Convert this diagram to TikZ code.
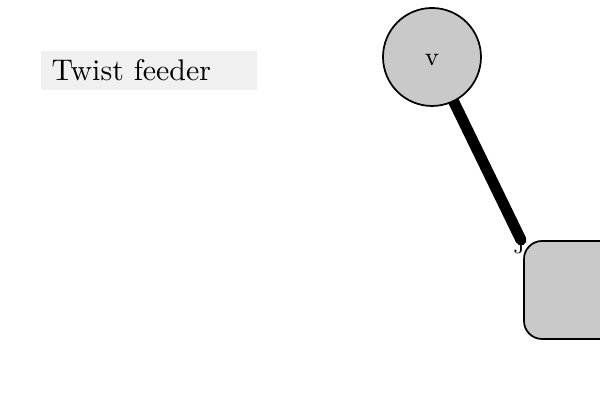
\documentclass[tikz,border=0pt]{standalone}
\begin{document}
\begin{tikzpicture}[x=0.345pt,y=-0.345pt,
  ball/.style={circle,draw=black,line width=0.6pt,fill=black!21,minimum size=98*0.345pt,inner sep=0pt},
  block/.style={rectangle,rounded corners=18*0.345pt,draw=black,line width=0.6pt,fill=black!21,minimum width=98*0.345pt,minimum height=98*0.345pt,inner sep=0pt},
  tag/.style={rectangle,fill=black!6,minimum width=216*0.345pt,minimum height=39*0.345pt,inner sep=0pt,anchor=north west},
  feed/.style={line width=11*0.345pt,line cap=round}]
\useasboundingbox (0,0) rectangle (600,400);
\begin{scope}
\clip (0,0) rectangle (600,400);
\node[tag] (lbl) at (40,50) {};
\node[anchor=west,inner sep=0pt] (lbltext) at (51,70) {\fontsize{10.3}{12}\selectfont Twist feeder};
\coordinate (vc) at (432,57);
\coordinate (e) at (521,240);
\node[font=\scriptsize,inner sep=0pt] (j) at (519,247) {J};
\draw[feed] (vc) -- (e);
\node[ball] (v) at (vc) {};
\node[font=\small,inner sep=0pt] (vtext) at (432,60) {v};
\node[block] (b) at (573,290) {};
\end{scope}
\end{tikzpicture}
\end{document}
